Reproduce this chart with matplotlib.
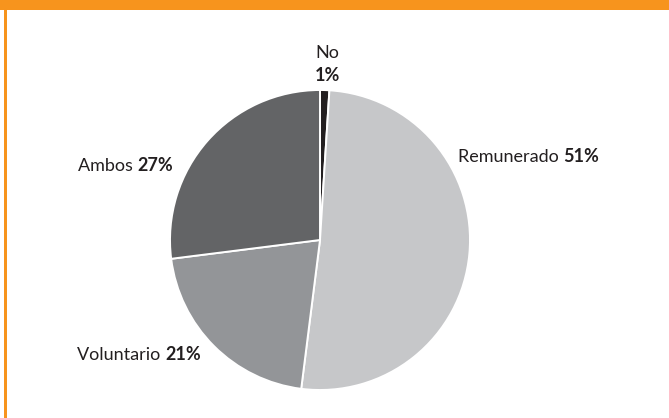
import matplotlib
matplotlib.use("Agg")
import matplotlib.pyplot as plt
from matplotlib.patches import Rectangle

categories = ["No", "Remunerado", "Voluntario", "Ambos"]
values = [1, 51, 21, 27]
colors = ["#231f20", "#c6c7c9", "#939598", "#636466"]

W, H = 669, 418
fig = plt.figure(figsize=(W / 100, H / 100), dpi=100)
ax = fig.add_axes([0, 0, 1, 1])

# pie in pixel coordinates (y measured from bottom)
cx, cy, r = 320, H - 240, 150
ax.pie(values, colors=colors, startangle=90, counterclock=False,
       center=(cx, cy), radius=r, frame=True,
       wedgeprops=dict(edgecolor="white", linewidth=1.4))
ax.set_xlim(0, W)
ax.set_ylim(0, H)
ax.set_aspect("auto")
ax.axis("off")

# orange frame
orange = "#f7941d"
ax.add_patch(Rectangle((0, H - 10), W, 10, facecolor=orange, edgecolor="none", zorder=5))
ax.add_patch(Rectangle((4, 0), 2.6, H - 10, facecolor=orange, edgecolor="none", zorder=5))

fam = ["Lato", "DejaVu Sans"]
tc = "#231f20"
fs = 13

def label(x, y, name, val):
    t = ax.text(x, H - y, name + " ", fontsize=fs, family=fam, color=tc,
                ha="left", va="baseline")
    ax.annotate(f"{val}%", xy=(1, 0), xycoords=t, fontsize=fs, family=fam,
                color=tc, fontweight="bold", ha="left", va="bottom")

# "No" label stacked
ax.text(327, H - 58, categories[0], fontsize=fs, family=fam, color=tc,
        ha="center", va="baseline")
ax.text(327, H - 81, f"{values[0]}%", fontsize=fs, family=fam, color=tc,
        fontweight="bold", ha="center", va="baseline")

label(458, 162, categories[1], values[1])
label(77, 360, categories[2], values[2])
label(78, 171, categories[3], values[3])

fig.savefig("out.png", dpi=100)
